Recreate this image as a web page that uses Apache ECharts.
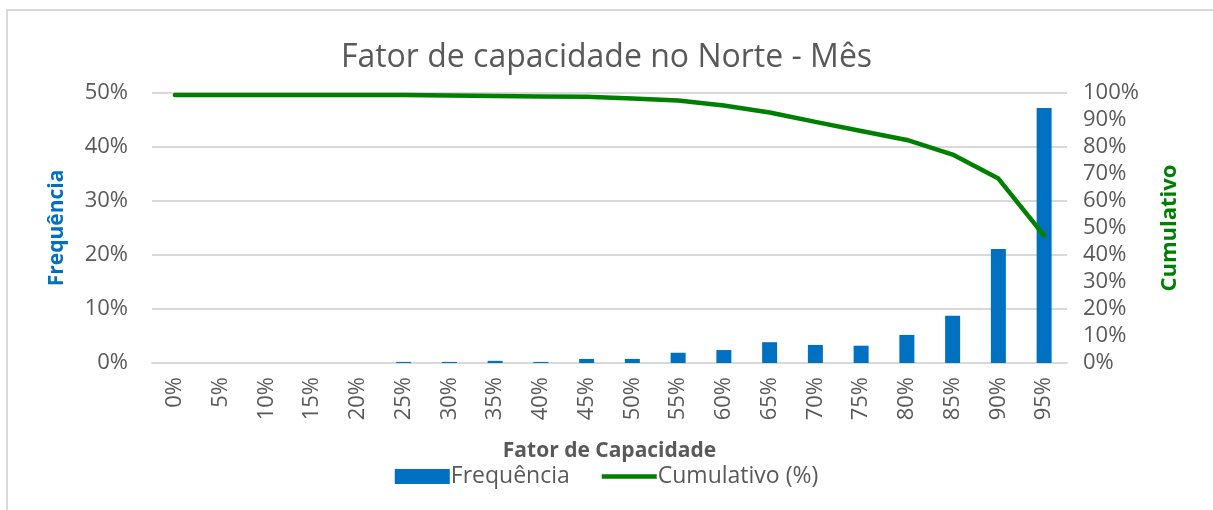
<!DOCTYPE html>
<html>
<head>
    <meta charset="UTF-8"/>
    <title>Fator de capacidade no Norte - Mês</title>
    <script type="text/javascript" src="https://cdn.jsdelivr.net/npm/echarts@6/dist/echarts.min.js"></script>
    <style>
        html, body { margin: 0; padding: 0; background: #fff; }
        #frame { position: absolute; left: 6px; top: 9px; width: 1300px; height: 600px;
                 border-left: 2px solid #d9d9d9; border-top: 2px solid #d9d9d9; }
        #chart { position: absolute; left: 0; top: 0; width: 1213px; height: 510px; }
    </style>
</head>
<body>
<div id="frame"></div>
<div id="chart"></div>
<script>
    // categorias do eixo x
    var categorias = ['0%','5%','10%','15%','20%','25%','30%','35%','40%','45%',
                      '50%','55%','60%','65%','70%','75%','80%','85%','90%','95%'];
    // frequência (%) por faixa
    var frequencia = [0, 0, 0, 0, 0, 0.2, 0.2, 0.4, 0.2, 0.75,
                      0.75, 1.9, 2.4, 3.85, 3.35, 3.2, 5.2, 8.75, 21.1, 47.2];
    // cumulativo (%)
    var cumulativo = [99.3, 99.3, 99.3, 99.3, 99.3, 99.3, 99.1, 98.9, 98.7, 98.6,
                      98.0, 97.2, 95.4, 92.8, 89.3, 85.9, 82.6, 77.2, 68.3, 47.2];

    var fonte = '"Open Sans", sans-serif';
    var cinza = '#595959';

    var chart = echarts.init(document.getElementById('chart'));
    chart.setOption({
        animation: false,
        textStyle: { fontFamily: fonte },
        title: {
            text: 'Fator de capacidade no Norte - Mês',
            left: 'center', top: 37,
            textStyle: { fontSize: 32, fontWeight: 'normal', color: cinza, fontFamily: fonte }
        },
        legend: {
            bottom: 17, left: 'center',
            itemWidth: 55, itemHeight: 15, itemGap: 32,
            textStyle: { fontSize: 23, color: cinza, fontFamily: fonte, padding: [0, 0, 0, -4] },
            data: [
                { name: 'Frequência', icon: 'rect' },
                { name: 'Cumulativo (%)', icon: 'path://M0,0h58v5h-58z' }
            ]
        },
        grid: { left: 152, right: 146, top: 93, bottom: 147 },
        xAxis: {
            type: 'category',
            data: categorias,
            name: 'Fator de Capacidade',
            nameLocation: 'middle',
            nameGap: 78,
            nameTextStyle: { fontSize: 21, fontWeight: 'bold', color: cinza, fontFamily: fonte },
            axisLine: { lineStyle: { color: '#d9d9d9', width: 2 } },
            axisTick: { show: false },
            axisLabel: { rotate: 90, fontSize: 22, color: cinza, margin: 14, fontFamily: fonte }
        },
        yAxis: [
            {
                type: 'value', min: 0, max: 50, interval: 10,
                name: 'Frequência',
                nameLocation: 'middle', nameGap: 84, nameRotate: 90,
                nameTextStyle: { fontSize: 21, fontWeight: 'bold', color: '#0070C0', fontFamily: fonte },
                axisLabel: { formatter: '{value}%', fontSize: 22, color: cinza, margin: 24, fontFamily: fonte },
                splitLine: { lineStyle: { color: '#d9d9d9', width: 2 } },
                axisLine: { show: false }, axisTick: { show: false }
            },
            {
                type: 'value', min: 0, max: 100, interval: 10,
                name: 'Cumulativo',
                nameLocation: 'middle', nameGap: 92, nameRotate: 90,
                nameTextStyle: { fontSize: 22, fontWeight: 'bold', color: '#008000', fontFamily: fonte },
                axisLabel: { formatter: '{value}%', fontSize: 22, color: cinza, margin: 16, fontFamily: fonte },
                splitLine: { show: false },
                axisLine: { show: false }, axisTick: { show: false }
            }
        ],
        series: [
            {
                name: 'Frequência',
                type: 'bar',
                yAxisIndex: 0,
                data: frequencia,
                barWidth: 15,
                itemStyle: { color: '#0070C0' }
            },
            {
                name: 'Cumulativo (%)',
                type: 'line',
                yAxisIndex: 1,
                data: cumulativo,
                symbol: 'none',
                lineStyle: { color: '#008000', width: 4.5, cap: 'round', join: 'round' },
                itemStyle: { color: '#008000' }
            }
        ]
    });
</script>
</body>
</html>
